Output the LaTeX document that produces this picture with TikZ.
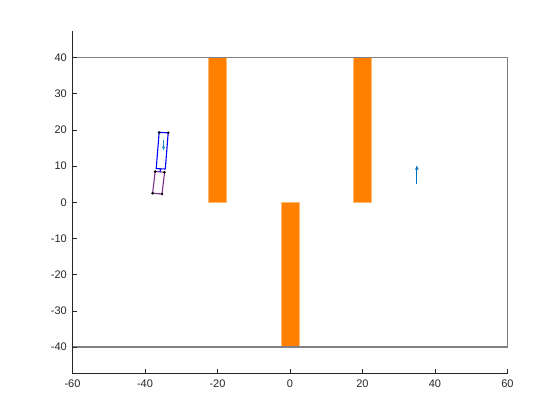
\documentclass[tikz,border=0pt]{standalone}
\usepackage{fontspec}
\setmainfont{Liberation Sans}
\usetikzlibrary{arrows.meta}
\definecolor{barorange}{RGB}{255,128,0}
\definecolor{axisgray}{RGB}{38,38,38}
\definecolor{quiverblue}{RGB}{0,114,189}
\definecolor{headingblue}{RGB}{30,140,210}
\definecolor{trailerpurple}{RGB}{126,47,142}

\begin{document}
\begin{tikzpicture}[
		x=3.625pt, y=3.62pt,
		obstacle/.style={fill=barorange, draw=barorange!55, line width=0.6pt},
		boundary/.style={draw=gray, line width=1.3pt},
		spine/.style={draw=axisgray, line width=0.6pt},
		ticklabel/.style={font=\fontsize{11}{13}\selectfont, text=axisgray, inner sep=0pt},
		joint/.style={circle, fill=black, inner sep=0pt, minimum size=2.8pt},
		tractor/.style={draw=blue, line width=1.1pt, line join=round},
		trailer/.style={draw=trailerpurple, line width=1.1pt, line join=round}
		]
		\useasboundingbox (-290pt,-217.7pt) rectangle (270pt,202.3pt);
		% obstacles
		\fill[obstacle] (-22.5,0) rectangle (-17.5,40);
		\fill[obstacle] (-2.5,-40) rectangle (2.5,0);
		\fill[obstacle] (17.5,0) rectangle (22.5,40);
		\draw[obstacle] (-22.5,0) rectangle (-17.5,40);
		\draw[obstacle] (-2.5,-40) rectangle (2.5,0);
		\draw[obstacle] (17.5,0) rectangle (22.5,40);
		% environment boundary
		\draw[boundary] (-60,-40) rectangle (60,40);
		% axes
		\coordinate (origin) at (-60,-47.2);
		\draw[spine] (-60,47.2) -- (origin) -- (60,-47.2);
		\foreach \x in {-60,-40,...,60} {
			\draw[spine] (\x,-47.2) -- ++(0,4.3pt);
			\node[ticklabel, anchor=north] (xlabel\x) at ([yshift=-6.5pt]\x,-47.2) {\x};
		}
		\foreach \y in {-40,-30,...,40} {
			\draw[spine] (-60,\y) -- ++(4.3pt,0);
			\node[ticklabel, anchor=east] (ylabel\y) at ([xshift=-5.5pt]-60,\y) {\y};
		}
		% goal pose
		\coordinate (goal start) at (35,5);
		\coordinate (goal end) at (35,10.3);
		\draw[quiverblue, line width=1.1pt, -{Latex[length=4.5pt, width=3.8pt]}] (goal start) -- (goal end);
		% vehicle
		\coordinate (tractor 1) at (-36.1,19.3);
		\coordinate (tractor 2) at (-33.6,19.2);
		\coordinate (tractor 3) at (-34.4,9.2);
		\coordinate (tractor 4) at (-36.9,9.3);
		\coordinate (trailer 1) at (-37.2,8.5);
		\coordinate (trailer 2) at (-34.6,8.3);
		\coordinate (trailer 3) at (-35.3,2.3);
		\coordinate (trailer 4) at (-37.9,2.5);
		\draw[trailer] (trailer 1) -- (trailer 2) -- (trailer 3) -- (trailer 4) -- cycle;
		\draw[tractor] (tractor 1) -- (tractor 2) -- (tractor 3) -- (tractor 4) -- cycle;
		\draw[blue, line width=1.1pt] (-35.65,9.25) -- (-35.9,8.4);
		\coordinate (heading start) at (-34.9,17.2);
		\coordinate (heading end) at (-34.9,14.3);
		\draw[headingblue, line width=1.1pt, -{Latex[length=4pt, width=3.6pt]}] (heading start) -- (heading end);
		\foreach \p in {tractor 1, tractor 2, trailer 1, trailer 2, trailer 3, trailer 4}
			\node[joint] at (\p) {};
	\end{tikzpicture}
\end{document}
